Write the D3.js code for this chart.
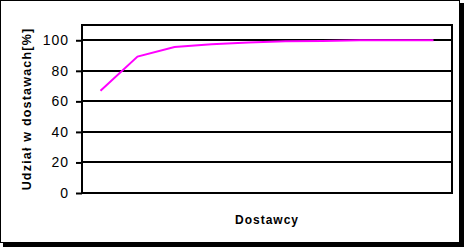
<!DOCTYPE html>
<html>
<head>
<meta charset="utf-8">
<script src="https://cdn.jsdelivr.net/npm/d3@7"></script>
<style>
  body { margin: 0; background: #fff; }
  svg text { font-family: "Liberation Sans", Arial, sans-serif; }
</style>
</head>
<body>
<div class="chart"></div>
<script>
// dostawcy (bez etykiet na osi) i skumulowany udzial w dostawach
var suppliers = ['1', '2', '3', '4', '5', '6', '7', '8', '9', '10'];
var shares = [67, 89.3, 95.6, 97.4, 98.5, 99.3, 99.5, 100, 100, 100];
var yTicks = [0, 20, 40, 60, 80, 100];

var width = 464,
    height = 247,
    plotLeft = 82, plotRight = 452, plotTop = 25, plotBottom = 193;

var svg = d3.select(".chart")
  .append("svg")
  .attr("width", width)
  .attr("height", height);

// ramka z cieniem
svg.append("rect")
  .attr("x", 3).attr("y", 3)
  .attr("width", 461).attr("height", 244)
  .attr("fill", "#000");
svg.append("rect")
  .attr("x", 0.5).attr("y", 0.5)
  .attr("width", 459).attr("height", 242)
  .attr("fill", "#fff")
  .attr("stroke", "#000")
  .attr("stroke-width", 1);

var x = d3.scalePoint()
  .domain(suppliers)
  .range([plotLeft, plotRight])
  .padding(0.5);

var y = d3.scaleLinear()
  .domain([0, 110])
  .range([plotBottom, plotTop]);

// siatka + os Y
var yAxis = svg.append("g")
  .attr("transform", "translate(" + plotLeft + ",0)")
  .call(d3.axisLeft(y).tickValues(yTicks).tickSize(6).tickPadding(7));
yAxis.select(".domain").remove();
yAxis.selectAll(".tick line").attr("stroke", "#000").attr("stroke-width", 2);
yAxis.selectAll(".tick text")
  .attr("fill", "#000")
  .style("font-size", "14px")
  .style("letter-spacing", "1px");

svg.append("g")
  .selectAll("line")
  .data(yTicks)
  .enter().append("line")
  .attr("x1", plotLeft).attr("x2", plotRight)
  .attr("y1", function(d){ return Math.round(y(d)); })
  .attr("y2", function(d){ return Math.round(y(d)); })
  .attr("stroke", "#000")
  .attr("stroke-width", 2);

// obramowanie obszaru wykresu
svg.append("rect")
  .attr("x", plotLeft).attr("y", plotTop)
  .attr("width", plotRight - plotLeft).attr("height", plotBottom - plotTop)
  .attr("fill", "none")
  .attr("stroke", "#000")
  .attr("stroke-width", 2);

var line = d3.line()
  .x(function(d, i){ return x(suppliers[i]); })
  .y(function(d){ return y(d); });

svg.append("path")
  .datum(shares)
  .attr("d", line)
  .attr("fill", "none")
  .attr("stroke", "#ff00ff")
  .attr("stroke-width", 2);

svg.append("text")
  .attr("x", (plotLeft + plotRight) / 2)
  .attr("y", 224)
  .attr("text-anchor", "middle")
  .style("font-size", "12px")
  .style("font-weight", "bold")
  .style("letter-spacing", "1px")
  .text("Dostawcy");

svg.append("text")
  .attr("transform", "translate(31," + ((plotTop + plotBottom) / 2) + ") rotate(-90)")
  .attr("text-anchor", "middle")
  .style("font-size", "12.5px")
  .style("font-weight", "bold")
  .style("letter-spacing", "1.2px")
  .text("Udział w dostawach[%]");
</script>
</body>
</html>
